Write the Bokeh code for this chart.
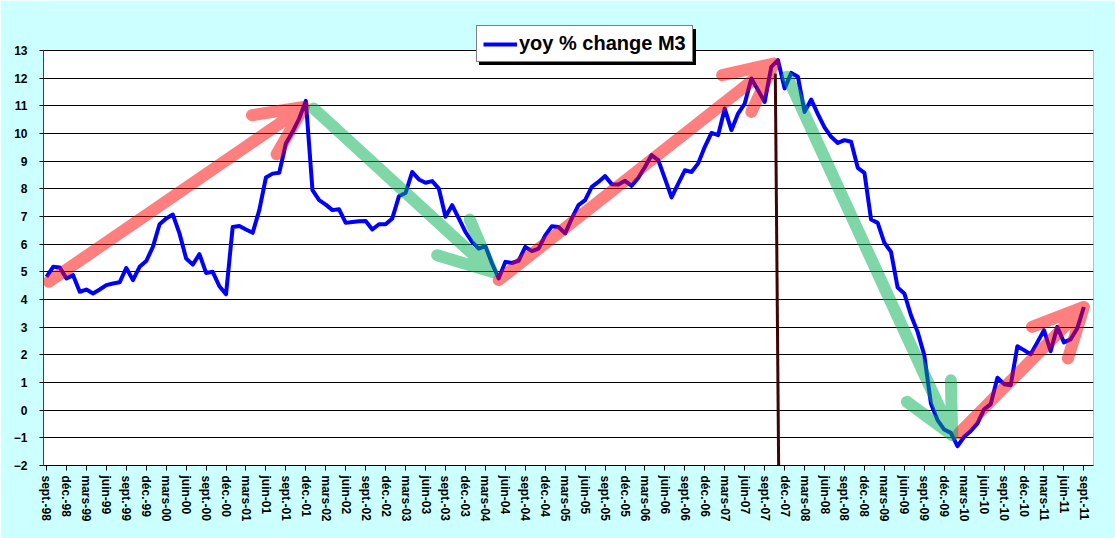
from bokeh.plotting import figure
from bokeh.models import Range1d, FixedTicker, Legend, LegendItem
from bokeh.embed import file_html
from bokeh.resources import INLINE

# monthly yoy % change of M3, sept-98 .. sept-11
m3_values = [
    4.82, 5.18, 5.16, 4.76, 4.88, 4.28, 4.36, 4.22, 4.36, 4.52, 4.58, 4.62,
    5.14, 4.70, 5.18, 5.39, 5.90, 6.72, 6.93, 7.07, 6.39, 5.48, 5.26, 5.64,
    4.96, 5.00, 4.48, 4.19, 6.62, 6.66, 6.53, 6.41, 7.23, 8.41, 8.55, 8.58,
    9.64, 10.06, 10.54, 11.18, 7.95, 7.59, 7.43, 7.23, 7.26, 6.77, 6.80, 6.83,
    6.84, 6.53, 6.72, 6.72, 6.93, 7.73, 7.85, 8.61, 8.34, 8.22, 8.28, 8.01,
    6.99, 7.41, 6.93, 6.44, 6.08, 5.84, 5.93, 5.30, 4.76, 5.36, 5.32, 5.40,
    5.90, 5.75, 5.84, 6.32, 6.65, 6.62, 6.39, 6.93, 7.41, 7.59, 8.07, 8.25,
    8.46, 8.17, 8.16, 8.29, 8.11, 8.40, 8.79, 9.22, 9.04, 8.37, 7.69, 8.19,
    8.67, 8.61, 8.92, 9.52, 10.02, 9.94, 10.90, 10.12, 10.72, 11.08, 11.99, 11.57,
    11.14, 12.41, 12.65, 11.63, 12.19, 12.05, 10.78, 11.23, 10.70, 10.22, 9.88, 9.66,
    9.76, 9.70, 8.76, 8.58, 6.89, 6.77, 6.05, 5.72, 4.43, 4.22, 3.43, 2.83,
    1.99, 0.24, -0.36, -0.70, -0.82, -1.30, -0.96, -0.75, -0.48, 0.03, 0.22, 1.17,
    0.94, 0.90, 2.31, 2.17, 2.02, 2.45, 2.89, 2.13, 3.01, 2.45, 2.56, 2.95,
    3.73,
]
month_index = list(range(len(m3_values)))

tick_labels = [
    "sept.-98", "déc.-98", "mars-99", "juin-99", "sept.-99", "déc.-99",
    "mars-00", "juin-00", "sept.-00", "déc.-00", "mars-01", "juin-01",
    "sept.-01", "déc.-01", "mars-02", "juin-02", "sept.-02", "déc.-02",
    "mars-03", "juin-03", "sept.-03", "déc.-03", "mars-04", "juin-04",
    "sept.-04", "déc.-04", "mars-05", "juin-05", "sept.-05", "déc.-05",
    "mars-06", "juin-06", "sept.-06", "déc.-06", "mars-07", "juin-07",
    "sept.-07", "déc.-07", "mars-08", "juin-08", "sept.-08", "déc.-08",
    "mars-09", "juin-09", "sept.-09", "déc.-09", "mars-10", "juin-10",
    "sept.-10", "déc.-10", "mars-11", "juin-11", "sept.-11",
]
tick_positions = [3 * k for k in range(len(tick_labels))]

y_min, y_max = -2, 13
y_ticks = list(range(y_min, y_max + 1))

# hand-drawn trend arrows: start -> tip -> barb1 -> tip -> barb2 (data units)
red_arrows_x = [
    [0.35, 38.7, 30.9, 38.7, 34.6],
    [68.0, 109.4, 101.6, 109.4, 106.0],
    [137.2, 156.0, 148.2, 156.0, 153.6],
]
red_arrows_y = [
    [4.64, 10.96, 10.66, 10.96, 9.25],
    [4.70, 12.53, 12.11, 12.53, 10.78],
    [-0.84, 3.73, 3.01, 3.73, 1.87],
]
green_arrows_x = [
    [40.2, 67.0, 58.75, 67.0, 63.65],
    [111.4, 136.2, 129.4, 136.2, 136.0],
]
green_arrows_y = [
    [10.9, 5.0, 5.60, 5.0, 6.89],
    [12.05, -0.90, 0.30, -0.90, 1.08],
]
marker_x = [109.6, 110.1]
marker_y = [12.17, -2.0]

FONT = "Liberation Sans"
CYAN = "#CCFFFF"

x_lo, x_hi = -0.45, 157.45
# frame extends above the plotting area so the legend box (which overlaps
# the top edge) is fully visible; the white plot area is drawn as a quad
y_top = y_max + 40 / 27.667

p = figure(width=1115, height=538, output_backend="svg", toolbar_location=None,
           x_range=Range1d(x_lo, x_hi), y_range=Range1d(y_min, y_top),
           min_border_left=43, min_border_right=22, min_border_top=10,
           min_border_bottom=73)
p.border_fill_color = CYAN
p.background_fill_color = CYAN
p.outline_line_color = None

p.quad(left=[x_lo], right=[x_hi], bottom=[y_min], top=[y_max],
       fill_color="white", line_color="#808080", line_width=1, level="image")

p.xgrid.visible = False
p.ygrid.ticker = FixedTicker(ticks=y_ticks)
p.ygrid.grid_line_color = "black"
p.ygrid.grid_line_width = 1

p.yaxis.ticker = FixedTicker(ticks=y_ticks)
p.yaxis.bounds = (y_min, y_max)
p.yaxis.major_label_text_font = FONT
p.yaxis.major_label_text_font_style = "bold"
p.yaxis.major_label_text_font_size = "12px"
p.yaxis.major_label_text_color = "black"
p.yaxis.major_tick_in = 0
p.yaxis.major_tick_out = 4
p.yaxis.minor_tick_line_color = None
p.yaxis.major_label_standoff = 12
p.yaxis.axis_line_color = "#404040"

p.xaxis.ticker = FixedTicker(ticks=tick_positions)
p.xaxis.major_label_overrides = {pos: lab for pos, lab in zip(tick_positions, tick_labels)}
p.xaxis.major_label_orientation = "vertical"
p.xaxis.major_label_text_font = FONT
p.xaxis.major_label_text_font_style = "bold"
p.xaxis.major_label_text_font_size = "12px"
p.xaxis.major_label_text_color = "black"
p.xaxis.major_tick_in = 0
p.xaxis.major_tick_out = 5
p.xaxis.minor_tick_line_color = None
p.xaxis.major_label_standoff = 5
p.xaxis.axis_line_color = "black"

line = p.line(month_index, m3_values, line_color="#0000FF", line_width=4,
              line_join="round")
# invisible renderer used only for the legend's drop shadow
ghost = p.line([], [], line_alpha=0)

p.line(marker_x, marker_y, line_color="#3F0505", line_width=3)

p.multi_line(red_arrows_x, red_arrows_y, line_color="#FF0000", line_alpha=0.5,
             line_width=12, line_cap="round", line_join="round")
p.multi_line(green_arrows_x, green_arrows_y, line_color="#00B050", line_alpha=0.5,
             line_width=12, line_cap="round", line_join="round")

common = dict(orientation="vertical", padding=6, margin=0, spacing=0,
              glyph_height=22, label_height=22, label_standoff=2,
              label_text_font=FONT, label_text_font_style="bold",
              label_text_font_size="20px", border_line_width=1.5)

shadow = Legend(items=[LegendItem(label=" ", renderers=[ghost])],
                location=(436, 400), background_fill_color="black",
                background_fill_alpha=1.0, border_line_color="black",
                glyph_width=181, label_text_color="black", **common)
legend = Legend(items=[LegendItem(label="yoy % change M3", renderers=[line])],
                location=(433, 403), background_fill_color="white",
                background_fill_alpha=1.0, border_line_color="black",
                glyph_width=34, label_text_color="black", **common)
p.add_layout(shadow, "center")
p.add_layout(legend, "center")

open("out.html", "w").write(file_html(p, INLINE))
